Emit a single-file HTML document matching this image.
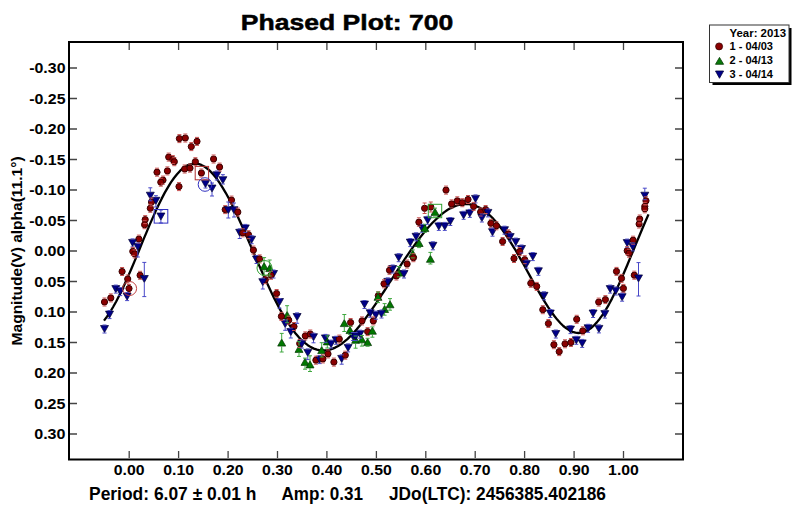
<!DOCTYPE html><html><head><meta charset="utf-8"><style>html,body{margin:0;padding:0;background:#fff;width:800px;height:509px;overflow:hidden}svg{display:block}text{font-family:"Liberation Sans",sans-serif;font-weight:bold}</style></head><body>
<svg width="800" height="509" viewBox="0 0 800 509">
<rect width="800" height="509" fill="#fff"/>
<text x="240.8" y="30" font-size="22.6" stroke="#000" stroke-width="0.5" textLength="212.5" lengthAdjust="spacingAndGlyphs">Phased Plot: 700</text>
<path d="M129.2,43V50 M129.2,458V451 M178.6,43V50 M178.6,458V451 M228.1,43V50 M228.1,458V451 M277.5,43V50 M277.5,458V451 M326.9,43V50 M326.9,458V451 M376.4,43V50 M376.4,458V451 M425.8,43V50 M425.8,458V451 M475.2,43V50 M475.2,458V451 M524.6,43V50 M524.6,458V451 M574.1,43V50 M574.1,458V451 M623.5,43V50 M623.5,458V451 M70,68.0H77 M682,68.0H675 M70,98.5H77 M682,98.5H675 M70,129.0H77 M682,129.0H675 M70,159.5H77 M682,159.5H675 M70,190.0H77 M682,190.0H675 M70,220.5H77 M682,220.5H675 M70,251.0H77 M682,251.0H675 M70,281.5H77 M682,281.5H675 M70,312.0H77 M682,312.0H675 M70,342.5H77 M682,342.5H675 M70,373.0H77 M682,373.0H675 M70,403.5H77 M682,403.5H675 M70,434.0H77 M682,434.0H675" stroke="#444" stroke-width="1.3" fill="none"/>
<text x="65.5" y="73.0" font-size="14.6" text-anchor="end" textLength="36.3" lengthAdjust="spacingAndGlyphs">-0.30</text>
<text x="65.5" y="103.5" font-size="14.6" text-anchor="end" textLength="36.3" lengthAdjust="spacingAndGlyphs">-0.25</text>
<text x="65.5" y="134.0" font-size="14.6" text-anchor="end" textLength="36.3" lengthAdjust="spacingAndGlyphs">-0.20</text>
<text x="65.5" y="164.5" font-size="14.6" text-anchor="end" textLength="36.3" lengthAdjust="spacingAndGlyphs">-0.15</text>
<text x="65.5" y="195.0" font-size="14.6" text-anchor="end" textLength="36.3" lengthAdjust="spacingAndGlyphs">-0.10</text>
<text x="65.5" y="225.5" font-size="14.6" text-anchor="end" textLength="36.3" lengthAdjust="spacingAndGlyphs">-0.05</text>
<text x="65.5" y="256.0" font-size="14.6" text-anchor="end" textLength="31.3" lengthAdjust="spacingAndGlyphs">0.00</text>
<text x="65.5" y="286.5" font-size="14.6" text-anchor="end" textLength="31.3" lengthAdjust="spacingAndGlyphs">0.05</text>
<text x="65.5" y="317.0" font-size="14.6" text-anchor="end" textLength="31.3" lengthAdjust="spacingAndGlyphs">0.10</text>
<text x="65.5" y="347.5" font-size="14.6" text-anchor="end" textLength="31.3" lengthAdjust="spacingAndGlyphs">0.15</text>
<text x="65.5" y="378.0" font-size="14.6" text-anchor="end" textLength="31.3" lengthAdjust="spacingAndGlyphs">0.20</text>
<text x="65.5" y="408.5" font-size="14.6" text-anchor="end" textLength="31.3" lengthAdjust="spacingAndGlyphs">0.25</text>
<text x="65.5" y="439.0" font-size="14.6" text-anchor="end" textLength="31.3" lengthAdjust="spacingAndGlyphs">0.30</text>
<text x="129.2" y="475.3" font-size="14.3" text-anchor="middle" textLength="30.8" lengthAdjust="spacingAndGlyphs">0.00</text>
<text x="178.6" y="475.3" font-size="14.3" text-anchor="middle" textLength="30.8" lengthAdjust="spacingAndGlyphs">0.10</text>
<text x="228.1" y="475.3" font-size="14.3" text-anchor="middle" textLength="30.8" lengthAdjust="spacingAndGlyphs">0.20</text>
<text x="277.5" y="475.3" font-size="14.3" text-anchor="middle" textLength="30.8" lengthAdjust="spacingAndGlyphs">0.30</text>
<text x="326.9" y="475.3" font-size="14.3" text-anchor="middle" textLength="30.8" lengthAdjust="spacingAndGlyphs">0.40</text>
<text x="376.4" y="475.3" font-size="14.3" text-anchor="middle" textLength="30.8" lengthAdjust="spacingAndGlyphs">0.50</text>
<text x="425.8" y="475.3" font-size="14.3" text-anchor="middle" textLength="30.8" lengthAdjust="spacingAndGlyphs">0.60</text>
<text x="475.2" y="475.3" font-size="14.3" text-anchor="middle" textLength="30.8" lengthAdjust="spacingAndGlyphs">0.70</text>
<text x="524.6" y="475.3" font-size="14.3" text-anchor="middle" textLength="30.8" lengthAdjust="spacingAndGlyphs">0.80</text>
<text x="574.1" y="475.3" font-size="14.3" text-anchor="middle" textLength="30.8" lengthAdjust="spacingAndGlyphs">0.90</text>
<text x="623.5" y="475.3" font-size="14.3" text-anchor="middle" textLength="30.8" lengthAdjust="spacingAndGlyphs">1.00</text>
<text transform="translate(21.8,345.4) rotate(-90)" x="0" y="0" font-size="15" textLength="189" lengthAdjust="spacingAndGlyphs">Magnitude(V) alpha(11.1°)</text>
<text x="89" y="499.7" font-size="17.5" textLength="167.5" lengthAdjust="spacingAndGlyphs">Period: 6.07 ± 0.01 h</text>
<text x="281.5" y="499.7" font-size="17.5" textLength="81.5" lengthAdjust="spacingAndGlyphs">Amp: 0.31</text>
<text x="389" y="499.7" font-size="17.5" textLength="217" lengthAdjust="spacingAndGlyphs">JDo(LTC): 2456385.402186</text>
<path d="M104.0,320.6 L107.0,316.6 L110.1,312.0 L113.1,307.0 L116.2,301.5 L119.2,295.6 L122.3,289.3 L125.3,282.7 L128.3,275.9 L131.4,268.8 L134.4,261.6 L137.5,254.2 L140.5,246.8 L143.5,239.4 L146.6,232.1 L149.6,224.9 L152.7,217.9 L155.7,211.1 L158.8,204.6 L161.8,198.4 L164.8,192.6 L167.9,187.3 L170.9,182.4 L174.0,178.0 L177.0,174.2 L180.0,170.9 L183.1,168.2 L186.1,166.1 L189.2,164.6 L192.2,163.8 L195.3,163.5 L198.3,163.9 L201.3,164.9 L204.4,166.5 L207.4,168.7 L210.5,171.4 L213.5,174.7 L216.6,178.5 L219.6,182.8 L222.6,187.6 L225.7,192.8 L228.7,198.3 L231.8,204.2 L234.8,210.4 L237.8,216.8 L240.9,223.5 L243.9,230.3 L247.0,237.3 L250.0,244.3 L253.1,251.3 L256.1,258.4 L259.1,265.4 L262.2,272.3 L265.2,279.1 L268.3,285.8 L271.3,292.2 L274.3,298.5 L277.4,304.4 L280.4,310.1 L283.5,315.5 L286.5,320.5 L289.6,325.2 L292.6,329.6 L295.6,333.5 L298.7,337.1 L301.7,340.2 L304.8,342.9 L307.8,345.2 L310.8,347.1 L313.9,348.6 L316.9,349.7 L320.0,350.3 L323.0,350.5 L326.1,350.4 L329.1,349.8 L332.1,348.9 L335.2,347.6 L338.2,345.9 L341.3,344.0 L344.3,341.7 L347.4,339.1 L350.4,336.2 L353.4,333.0 L356.5,329.6 L359.5,326.0 L362.6,322.2 L365.6,318.2 L368.6,314.1 L371.7,309.7 L374.7,305.3 L377.8,300.8 L380.8,296.2 L383.9,291.5 L386.9,286.8 L389.9,282.0 L393.0,277.3 L396.0,272.6 L399.1,267.8 L402.1,263.2 L405.1,258.6 L408.2,254.1 L411.2,249.6 L414.3,245.3 L417.3,241.2 L420.4,237.1 L423.4,233.3 L426.4,229.6 L429.5,226.1 L432.5,222.8 L435.6,219.7 L438.6,216.8 L441.7,214.2 L444.7,211.9 L447.7,209.8 L450.8,208.1 L453.8,206.6 L456.9,205.5 L459.9,204.6 L462.9,204.1 L466.0,204.0 L469.0,204.2 L472.1,204.8 L475.1,205.7 L478.2,207.0 L481.2,208.6 L484.2,210.6 L487.3,213.0 L490.3,215.8 L493.4,218.9 L496.4,222.3 L499.4,226.0 L502.5,230.1 L505.5,234.4 L508.6,239.0 L511.6,243.8 L514.7,248.8 L517.7,254.0 L520.7,259.4 L523.8,264.8 L526.8,270.3 L529.9,275.9 L532.9,281.4 L535.9,286.9 L539.0,292.2 L542.0,297.4 L545.1,302.4 L548.1,307.2 L551.2,311.7 L554.2,315.8 L557.2,319.6 L560.3,323.0 L563.3,326.0 L566.4,328.4 L569.4,330.4 L572.5,331.8 L575.5,332.7 L578.5,333.0 L581.6,332.7 L584.6,331.8 L587.7,330.4 L590.7,328.3 L593.7,325.7 L596.8,322.4 L599.8,318.7 L602.9,314.4 L605.9,309.6 L609.0,304.3 L612.0,298.6 L615.0,292.5 L618.1,286.1 L621.1,279.3 L624.2,272.3 L627.2,265.2 L630.2,257.9 L633.3,250.5 L636.3,243.1 L639.4,235.7 L642.4,228.5 L645.5,221.3 L648.5,214.4" stroke="#000" stroke-width="2.3" fill="none" stroke-linejoin="round"/>
<g stroke-width="0.7"><circle cx="179.4" cy="138.6" r="3.1" fill="#8a0000" stroke="#3a0000" stroke-width="1"/><circle cx="185.3" cy="138.0" r="3.1" fill="#8a0000" stroke="#3a0000" stroke-width="1"/><circle cx="197.0" cy="141.4" r="3.1" fill="#8a0000" stroke="#3a0000" stroke-width="1"/><circle cx="191.3" cy="146.6" r="3.1" fill="#8a0000" stroke="#3a0000" stroke-width="1"/><circle cx="168.7" cy="157.1" r="3.1" fill="#8a0000" stroke="#3a0000" stroke-width="1"/><circle cx="172.8" cy="159.6" r="3.1" fill="#8a0000" stroke="#3a0000" stroke-width="1"/><circle cx="174.3" cy="161.7" r="3.1" fill="#8a0000" stroke="#3a0000" stroke-width="1"/><circle cx="195.4" cy="161.7" r="3.1" fill="#8a0000" stroke="#3a0000" stroke-width="1"/><circle cx="213.6" cy="159.0" r="3.1" fill="#8a0000" stroke="#3a0000" stroke-width="1"/><circle cx="219.6" cy="167.1" r="3.1" fill="#8a0000" stroke="#3a0000" stroke-width="1"/><circle cx="184.7" cy="169.0" r="3.1" fill="#8a0000" stroke="#3a0000" stroke-width="1"/><circle cx="190.0" cy="168.1" r="3.1" fill="#8a0000" stroke="#3a0000" stroke-width="1"/><circle cx="201.4" cy="173.0" r="3.1" fill="#8a0000" stroke="#3a0000" stroke-width="1"/><circle cx="157.0" cy="172.2" r="3.1" fill="#8a0000" stroke="#3a0000" stroke-width="1"/><circle cx="167.4" cy="170.9" r="3.1" fill="#8a0000" stroke="#3a0000" stroke-width="1"/><circle cx="163.0" cy="180.1" r="3.1" fill="#8a0000" stroke="#3a0000" stroke-width="1"/><circle cx="160.8" cy="182.2" r="3.1" fill="#8a0000" stroke="#3a0000" stroke-width="1"/><circle cx="179.0" cy="186.6" r="3.1" fill="#8a0000" stroke="#3a0000" stroke-width="1"/><path d="M212.8,171.8H220.8L216.8,178.9Z" fill="#000088" stroke="#000030"/><path d="M218.9,176.7H226.9L222.9,183.8Z" fill="#000088" stroke="#000030"/><path d="M201.5,180.5H209.5L205.5,187.6Z" fill="#000088" stroke="#000030"/><path d="M208.0,185.0H216.0L212.0,192.1Z" fill="#000088" stroke="#000030"/><path d="M146.3,192.2H154.3L150.3,199.3Z" fill="#000088" stroke="#000030"/><circle cx="151.5" cy="202.0" r="3.1" fill="#8a0000" stroke="#3a0000" stroke-width="1"/><path d="M151.9,197.3H159.9L155.9,204.4Z" fill="#000088" stroke="#000030"/><circle cx="150.3" cy="208.3" r="3.1" fill="#8a0000" stroke="#3a0000" stroke-width="1"/><path d="M156.9,213.0H164.9L160.9,220.1Z" fill="#000088" stroke="#000030"/><circle cx="145.2" cy="219.6" r="3.1" fill="#8a0000" stroke="#3a0000" stroke-width="1"/><circle cx="144.6" cy="224.7" r="3.1" fill="#8a0000" stroke="#3a0000" stroke-width="1"/><circle cx="138.9" cy="239.1" r="3.1" fill="#8a0000" stroke="#3a0000" stroke-width="1"/><path d="M128.6,239.4H136.6L132.6,246.5Z" fill="#000088" stroke="#000030"/><path d="M133.8,243.5H141.8L137.8,250.6Z" fill="#000088" stroke="#000030"/><circle cx="132.8" cy="251.4" r="3.1" fill="#8a0000" stroke="#3a0000" stroke-width="1"/><circle cx="134.7" cy="253.9" r="3.1" fill="#8a0000" stroke="#3a0000" stroke-width="1"/><circle cx="122.1" cy="271.5" r="3.1" fill="#8a0000" stroke="#3a0000" stroke-width="1"/><circle cx="127.7" cy="279.0" r="3.1" fill="#8a0000" stroke="#3a0000" stroke-width="1"/><circle cx="140.1" cy="275.3" r="3.1" fill="#8a0000" stroke="#3a0000" stroke-width="1"/><path d="M140.3,275.5H148.3L144.3,282.6Z" fill="#000088" stroke="#000030"/><circle cx="129.0" cy="288.5" r="3.1" fill="#8a0000" stroke="#3a0000" stroke-width="1"/><path d="M111.8,285.6H119.8L115.8,292.7Z" fill="#000088" stroke="#000030"/><path d="M116.2,288.1H124.2L120.2,295.2Z" fill="#000088" stroke="#000030"/><path d="M123.1,293.1H131.1L127.1,300.2Z" fill="#000088" stroke="#000030"/><circle cx="110.8" cy="297.9" r="3.1" fill="#8a0000" stroke="#3a0000" stroke-width="1"/><circle cx="104.5" cy="302.0" r="3.1" fill="#8a0000" stroke="#3a0000" stroke-width="1"/><path d="M105.5,311.1H113.5L109.5,318.2Z" fill="#000088" stroke="#000030"/><path d="M100.5,325.5H108.5L104.5,332.6Z" fill="#000088" stroke="#000030"/><circle cx="231.5" cy="200.1" r="3.1" fill="#8a0000" stroke="#3a0000" stroke-width="1"/><circle cx="225.2" cy="209.6" r="3.1" fill="#8a0000" stroke="#3a0000" stroke-width="1"/><path d="M224.3,206.7H232.3L228.3,213.8Z" fill="#000088" stroke="#000030"/><path d="M230.0,206.7H238.0L234.0,213.8Z" fill="#000088" stroke="#000030"/><circle cx="237.8" cy="212.1" r="3.1" fill="#8a0000" stroke="#3a0000" stroke-width="1"/><path d="M241.3,224.9H249.3L245.3,232.0Z" fill="#000088" stroke="#000030"/><path d="M235.7,229.3H243.7L239.7,236.4Z" fill="#000088" stroke="#000030"/><circle cx="242.8" cy="232.8" r="3.1" fill="#8a0000" stroke="#3a0000" stroke-width="1"/><circle cx="248.5" cy="234.7" r="3.1" fill="#8a0000" stroke="#3a0000" stroke-width="1"/><path d="M247.6,236.2H255.6L251.6,243.3Z" fill="#000088" stroke="#000030"/><circle cx="253.4" cy="250.1" r="3.1" fill="#8a0000" stroke="#3a0000" stroke-width="1"/><path d="M252.5,256.0H260.5L256.5,263.1Z" fill="#000088" stroke="#000030"/><circle cx="259.7" cy="258.9" r="3.1" fill="#8a0000" stroke="#3a0000" stroke-width="1"/><path d="M264.1,262.6L268.1,269.7H260.1Z" fill="#007800" stroke="#003000"/><path d="M269.7,264.5L273.7,271.6H265.7Z" fill="#007800" stroke="#003000"/><path d="M269.5,270.5H277.5L273.5,277.6Z" fill="#000088" stroke="#000030"/><circle cx="271.0" cy="275.3" r="3.1" fill="#8a0000" stroke="#3a0000" stroke-width="1"/><circle cx="265.3" cy="279.7" r="3.1" fill="#8a0000" stroke="#3a0000" stroke-width="1"/><path d="M258.8,278.7H266.8L262.8,285.8Z" fill="#000088" stroke="#000030"/><circle cx="276.6" cy="293.5" r="3.1" fill="#8a0000" stroke="#3a0000" stroke-width="1"/><path d="M275.5,298.5H283.5L279.5,305.6Z" fill="#000088" stroke="#000030"/><path d="M287.1,311.4L291.1,318.5H283.1Z" fill="#007800" stroke="#003000"/><circle cx="281.4" cy="316.4" r="3.1" fill="#8a0000" stroke="#3a0000" stroke-width="1"/><circle cx="288.7" cy="320.2" r="3.1" fill="#8a0000" stroke="#3a0000" stroke-width="1"/><path d="M281.2,320.5H289.2L285.2,327.6Z" fill="#000088" stroke="#000030"/><path d="M293.1,313.5H301.1L297.1,320.6Z" fill="#000088" stroke="#000030"/><circle cx="294.0" cy="326.5" r="3.1" fill="#8a0000" stroke="#3a0000" stroke-width="1"/><path d="M286.8,328.6H294.8L290.8,335.7Z" fill="#000088" stroke="#000030"/><path d="M281.7,339.0L285.7,346.1H277.7Z" fill="#007800" stroke="#003000"/><circle cx="305.3" cy="335.9" r="3.1" fill="#8a0000" stroke="#3a0000" stroke-width="1"/><circle cx="310.3" cy="334.0" r="3.1" fill="#8a0000" stroke="#3a0000" stroke-width="1"/><path d="M309.5,333.7H317.5L313.5,340.8Z" fill="#000088" stroke="#000030"/><circle cx="299.7" cy="343.5" r="3.1" fill="#8a0000" stroke="#3a0000" stroke-width="1"/><path d="M297.8,340.6H305.8L301.8,347.7Z" fill="#000088" stroke="#000030"/><path d="M299.0,345.3L303.0,352.4H295.0Z" fill="#007800" stroke="#003000"/><path d="M303.8,349.4H311.8L307.8,356.5Z" fill="#000088" stroke="#000030"/><path d="M321.4,334.9H329.4L325.4,342.0Z" fill="#000088" stroke="#000030"/><path d="M327.3,337.8L331.3,344.9H323.3Z" fill="#007800" stroke="#003000"/><path d="M327.1,340.6H335.1L331.1,347.7Z" fill="#000088" stroke="#000030"/><path d="M332.1,336.8H340.1L336.1,343.9Z" fill="#000088" stroke="#000030"/><circle cx="339.3" cy="339.1" r="3.1" fill="#8a0000" stroke="#3a0000" stroke-width="1"/><path d="M321.7,346.5L325.7,353.6H317.7Z" fill="#007800" stroke="#003000"/><path d="M344.3,319.5L348.3,326.6H340.3Z" fill="#007800" stroke="#003000"/><circle cx="350.6" cy="322.5" r="3.1" fill="#8a0000" stroke="#3a0000" stroke-width="1"/><path d="M350.0,326.5L354.0,333.6H346.0Z" fill="#007800" stroke="#003000"/><path d="M349.1,333.0H357.1L353.1,340.1Z" fill="#000088" stroke="#000030"/><path d="M344.1,344.4H352.1L348.1,351.5Z" fill="#000088" stroke="#000030"/><circle cx="328.0" cy="353.9" r="3.1" fill="#8a0000" stroke="#3a0000" stroke-width="1"/><path d="M305.0,358.3L309.0,365.4H301.0Z" fill="#007800" stroke="#003000"/><path d="M310.0,360.8L314.0,367.9H306.0Z" fill="#007800" stroke="#003000"/><circle cx="315.9" cy="360.2" r="3.1" fill="#8a0000" stroke="#3a0000" stroke-width="1"/><path d="M315.7,356.1H323.7L319.7,363.2Z" fill="#000088" stroke="#000030"/><circle cx="322.9" cy="358.9" r="3.1" fill="#8a0000" stroke="#3a0000" stroke-width="1"/><circle cx="333.9" cy="362.1" r="3.1" fill="#8a0000" stroke="#3a0000" stroke-width="1"/><path d="M337.7,355.4H345.7L341.7,362.5Z" fill="#000088" stroke="#000030"/><circle cx="345.3" cy="355.2" r="3.1" fill="#8a0000" stroke="#3a0000" stroke-width="1"/><path d="M355.6,336.2L359.6,343.3H351.6Z" fill="#007800" stroke="#003000"/><path d="M361.9,335.7L365.9,342.8H357.9Z" fill="#007800" stroke="#003000"/><path d="M356.1,330.7H364.1L360.1,337.8Z" fill="#000088" stroke="#000030"/><circle cx="384.0" cy="283.8" r="3.1" fill="#8a0000" stroke="#3a0000" stroke-width="1"/><path d="M383.8,278.4H391.8L387.8,285.5Z" fill="#000088" stroke="#000030"/><circle cx="378.3" cy="295.7" r="3.1" fill="#8a0000" stroke="#3a0000" stroke-width="1"/><path d="M378.0,293.2L382.0,300.3H374.0Z" fill="#007800" stroke="#003000"/><path d="M390.0,300.7L394.0,307.8H386.0Z" fill="#007800" stroke="#003000"/><path d="M360.5,301.0H368.5L364.5,308.1Z" fill="#000088" stroke="#000030"/><path d="M384.6,305.4L388.6,312.5H380.6Z" fill="#007800" stroke="#003000"/><path d="M366.2,309.8H374.2L370.2,316.9Z" fill="#000088" stroke="#000030"/><path d="M371.8,311.7H379.8L375.8,318.8Z" fill="#000088" stroke="#000030"/><path d="M377.5,310.5H385.5L381.5,317.6Z" fill="#000088" stroke="#000030"/><circle cx="362.0" cy="320.9" r="3.1" fill="#8a0000" stroke="#3a0000" stroke-width="1"/><circle cx="373.3" cy="320.9" r="3.1" fill="#8a0000" stroke="#3a0000" stroke-width="1"/><circle cx="367.6" cy="331.6" r="3.1" fill="#8a0000" stroke="#3a0000" stroke-width="1"/><path d="M372.4,327.1L376.4,334.2H368.4Z" fill="#007800" stroke="#003000"/><path d="M351.7,333.1H359.7L355.7,340.2Z" fill="#000088" stroke="#000030"/><path d="M367.6,338.5L371.6,345.6H363.6Z" fill="#007800" stroke="#003000"/><circle cx="389.5" cy="270.3" r="3.1" fill="#8a0000" stroke="#3a0000" stroke-width="1"/><path d="M388.7,265.5H396.7L392.7,272.6Z" fill="#000088" stroke="#000030"/><path d="M399.0,269.0L403.0,276.1H395.0Z" fill="#007800" stroke="#003000"/><circle cx="396.4" cy="276.0" r="3.1" fill="#8a0000" stroke="#3a0000" stroke-width="1"/><path d="M400.0,270.5H408.0L404.0,277.6Z" fill="#000088" stroke="#000030"/><path d="M394.7,254.2H402.7L398.7,261.3Z" fill="#000088" stroke="#000030"/><circle cx="407.1" cy="264.0" r="3.1" fill="#8a0000" stroke="#3a0000" stroke-width="1"/><path d="M412.8,250.1L416.8,257.2H408.8Z" fill="#007800" stroke="#003000"/><circle cx="413.4" cy="257.7" r="3.1" fill="#8a0000" stroke="#3a0000" stroke-width="1"/><path d="M406.3,239.1H414.3L410.3,246.2Z" fill="#000088" stroke="#000030"/><path d="M412.1,233.3H420.1L416.1,240.4Z" fill="#000088" stroke="#000030"/><path d="M419.1,239.4L423.1,246.5H415.1Z" fill="#007800" stroke="#003000"/><path d="M428.9,242.3H436.9L432.9,249.4Z" fill="#000088" stroke="#000030"/><path d="M430.4,255.2L434.4,262.3H426.4Z" fill="#007800" stroke="#003000"/><path d="M418.1,224.8H426.1L422.1,231.9Z" fill="#000088" stroke="#000030"/><path d="M424.9,224.5L428.9,231.6H420.9Z" fill="#007800" stroke="#003000"/><path d="M434.8,222.9H442.8L438.8,230.0Z" fill="#000088" stroke="#000030"/><path d="M440.8,222.9H448.8L444.8,230.0Z" fill="#000088" stroke="#000030"/><circle cx="446.0" cy="190.1" r="3.1" fill="#8a0000" stroke="#3a0000" stroke-width="1"/><circle cx="451.6" cy="203.9" r="3.1" fill="#8a0000" stroke="#3a0000" stroke-width="1"/><circle cx="457.3" cy="200.8" r="3.1" fill="#8a0000" stroke="#3a0000" stroke-width="1"/><circle cx="462.3" cy="202.7" r="3.1" fill="#8a0000" stroke="#3a0000" stroke-width="1"/><circle cx="468.0" cy="199.5" r="3.1" fill="#8a0000" stroke="#3a0000" stroke-width="1"/><path d="M471.5,195.4H479.5L475.5,202.5Z" fill="#000088" stroke="#000030"/><circle cx="473.6" cy="206.4" r="3.1" fill="#8a0000" stroke="#3a0000" stroke-width="1"/><circle cx="480.6" cy="212.0" r="3.1" fill="#8a0000" stroke="#3a0000" stroke-width="1"/><circle cx="485.6" cy="209.5" r="3.1" fill="#8a0000" stroke="#3a0000" stroke-width="1"/><path d="M483.9,209.4H491.9L487.9,216.5Z" fill="#000088" stroke="#000030"/><path d="M477.9,214.5H485.9L481.9,221.6Z" fill="#000088" stroke="#000030"/><circle cx="490.9" cy="223.3" r="3.1" fill="#8a0000" stroke="#3a0000" stroke-width="1"/><path d="M488.5,228.7H496.5L492.5,235.8Z" fill="#000088" stroke="#000030"/><path d="M459.6,211.8H467.6L463.6,218.9Z" fill="#000088" stroke="#000030"/><path d="M465.8,209.9H473.8L469.8,217.0Z" fill="#000088" stroke="#000030"/><path d="M446.3,218.0H454.3L450.3,225.1Z" fill="#000088" stroke="#000030"/><circle cx="424.6" cy="208.3" r="3.1" fill="#8a0000" stroke="#3a0000" stroke-width="1"/><circle cx="430.8" cy="207.1" r="3.1" fill="#8a0000" stroke="#3a0000" stroke-width="1"/><path d="M435.0,208.3L439.0,215.4H431.0Z" fill="#007800" stroke="#003000"/><path d="M423.7,216.8H431.7L427.7,223.9Z" fill="#000088" stroke="#000030"/><circle cx="418.9" cy="222.2" r="3.1" fill="#8a0000" stroke="#3a0000" stroke-width="1"/><circle cx="496.4" cy="225.8" r="3.1" fill="#8a0000" stroke="#3a0000" stroke-width="1"/><path d="M500.5,226.7H508.5L504.5,233.8Z" fill="#000088" stroke="#000030"/><circle cx="508.3" cy="233.9" r="3.1" fill="#8a0000" stroke="#3a0000" stroke-width="1"/><path d="M506.2,233.6H514.2L510.2,240.7Z" fill="#000088" stroke="#000030"/><circle cx="502.6" cy="241.5" r="3.1" fill="#8a0000" stroke="#3a0000" stroke-width="1"/><path d="M511.8,238.6H519.8L515.8,245.7Z" fill="#000088" stroke="#000030"/><path d="M517.5,245.5H525.5L521.5,252.6Z" fill="#000088" stroke="#000030"/><circle cx="519.6" cy="251.5" r="3.1" fill="#8a0000" stroke="#3a0000" stroke-width="1"/><path d="M528.8,253.1H536.8L532.8,260.2Z" fill="#000088" stroke="#000030"/><circle cx="514.0" cy="258.5" r="3.1" fill="#8a0000" stroke="#3a0000" stroke-width="1"/><circle cx="524.7" cy="259.7" r="3.1" fill="#8a0000" stroke="#3a0000" stroke-width="1"/><path d="M522.5,260.6H530.5L526.5,267.7Z" fill="#000088" stroke="#000030"/><path d="M534.4,267.8H542.4L538.4,274.9Z" fill="#000088" stroke="#000030"/><circle cx="530.8" cy="283.3" r="3.1" fill="#8a0000" stroke="#3a0000" stroke-width="1"/><circle cx="536.7" cy="286.4" r="3.1" fill="#8a0000" stroke="#3a0000" stroke-width="1"/><path d="M540.0,292.3H548.0L544.0,299.4Z" fill="#000088" stroke="#000030"/><circle cx="542.8" cy="309.7" r="3.1" fill="#8a0000" stroke="#3a0000" stroke-width="1"/><path d="M546.3,310.0H554.3L550.3,317.1Z" fill="#000088" stroke="#000030"/><circle cx="548.4" cy="323.5" r="3.1" fill="#8a0000" stroke="#3a0000" stroke-width="1"/><circle cx="576.7" cy="319.3" r="3.1" fill="#8a0000" stroke="#3a0000" stroke-width="1"/><path d="M589.1,310.0H597.1L593.1,317.1Z" fill="#000088" stroke="#000030"/><circle cx="598.7" cy="302.1" r="3.1" fill="#8a0000" stroke="#3a0000" stroke-width="1"/><path d="M551.8,330.5H559.8L555.8,337.6Z" fill="#000088" stroke="#000030"/><circle cx="553.9" cy="344.7" r="3.1" fill="#8a0000" stroke="#3a0000" stroke-width="1"/><circle cx="559.2" cy="351.6" r="3.1" fill="#8a0000" stroke="#3a0000" stroke-width="1"/><circle cx="565.0" cy="343.8" r="3.1" fill="#8a0000" stroke="#3a0000" stroke-width="1"/><circle cx="570.9" cy="342.5" r="3.1" fill="#8a0000" stroke="#3a0000" stroke-width="1"/><path d="M572.3,336.8H580.3L576.3,343.9Z" fill="#000088" stroke="#000030"/><path d="M578.2,339.9H586.2L582.2,347.0Z" fill="#000088" stroke="#000030"/><path d="M566.5,326.1H574.5L570.5,333.2Z" fill="#000088" stroke="#000030"/><circle cx="582.8" cy="330.8" r="3.1" fill="#8a0000" stroke="#3a0000" stroke-width="1"/><path d="M584.1,324.8H592.1L588.1,331.9Z" fill="#000088" stroke="#000030"/><path d="M594.9,325.4H602.9L598.9,332.5Z" fill="#000088" stroke="#000030"/><path d="M600.8,310.6H608.8L604.8,317.7Z" fill="#000088" stroke="#000030"/><circle cx="605.4" cy="299.6" r="3.1" fill="#8a0000" stroke="#3a0000" stroke-width="1"/><path d="M623.2,239.6H631.2L627.2,246.7Z" fill="#000088" stroke="#000030"/><circle cx="633.1" cy="240.2" r="3.1" fill="#8a0000" stroke="#3a0000" stroke-width="1"/><path d="M628.8,243.4H636.8L632.8,250.5Z" fill="#000088" stroke="#000030"/><circle cx="627.2" cy="250.7" r="3.1" fill="#8a0000" stroke="#3a0000" stroke-width="1"/><circle cx="629.1" cy="253.2" r="3.1" fill="#8a0000" stroke="#3a0000" stroke-width="1"/><circle cx="616.5" cy="271.4" r="3.1" fill="#8a0000" stroke="#3a0000" stroke-width="1"/><circle cx="621.5" cy="278.4" r="3.1" fill="#8a0000" stroke="#3a0000" stroke-width="1"/><circle cx="634.3" cy="275.2" r="3.1" fill="#8a0000" stroke="#3a0000" stroke-width="1"/><path d="M634.5,274.9H642.5L638.5,282.0Z" fill="#000088" stroke="#000030"/><circle cx="623.4" cy="288.4" r="3.1" fill="#8a0000" stroke="#3a0000" stroke-width="1"/><path d="M606.2,285.6H614.2L610.2,292.7Z" fill="#000088" stroke="#000030"/><path d="M611.8,287.5H619.8L615.8,294.6Z" fill="#000088" stroke="#000030"/><path d="M618.1,293.7H626.1L622.1,300.8Z" fill="#000088" stroke="#000030"/><path d="M640.8,192.2H648.8L644.8,199.3Z" fill="#000088" stroke="#000030"/><circle cx="646.0" cy="200.8" r="3.1" fill="#8a0000" stroke="#3a0000" stroke-width="1"/><circle cx="644.8" cy="206.4" r="3.1" fill="#8a0000" stroke="#3a0000" stroke-width="1"/><circle cx="644.8" cy="208.8" r="3.1" fill="#8a0000" stroke="#3a0000" stroke-width="1"/><circle cx="639.7" cy="219.0" r="3.1" fill="#8a0000" stroke="#3a0000" stroke-width="1"/><circle cx="639.1" cy="224.0" r="3.1" fill="#8a0000" stroke="#3a0000" stroke-width="1"/></g>
<g stroke-width="1" fill="none"><path d="M177.4,134.6H181.4M177.4,142.6H181.4" stroke="#c85050"/><path d="M183.3,134.0H187.3M183.3,142.0H187.3" stroke="#c85050"/><path d="M195.0,137.4H199.0M195.0,145.4H199.0" stroke="#c85050"/><path d="M189.3,142.6H193.3M189.3,150.6H193.3" stroke="#c85050"/><path d="M166.7,153.1H170.7M166.7,161.1H170.7" stroke="#c85050"/><path d="M170.8,155.6H174.8M170.8,163.6H174.8" stroke="#c85050"/><path d="M172.3,157.7H176.3M172.3,165.7H176.3" stroke="#c85050"/><path d="M193.4,157.7H197.4M193.4,165.7H197.4" stroke="#c85050"/><path d="M211.6,155.0H215.6M211.6,163.0H215.6" stroke="#c85050"/><path d="M217.6,163.1H221.6M217.6,171.1H221.6" stroke="#c85050"/><path d="M182.7,165.0H186.7M182.7,173.0H186.7" stroke="#c85050"/><path d="M188.0,164.1H192.0M188.0,172.1H192.0" stroke="#c85050"/><path d="M199.4,169.0H203.4M199.4,177.0H203.4" stroke="#c85050"/><path d="M155.0,168.2H159.0M155.0,176.2H159.0" stroke="#c85050"/><path d="M165.4,166.9H169.4M165.4,174.9H169.4" stroke="#c85050"/><path d="M161.0,176.1H165.0M161.0,184.1H165.0" stroke="#c85050"/><path d="M158.8,178.2H162.8M158.8,186.2H162.8" stroke="#c85050"/><path d="M177.0,182.6H181.0M177.0,190.6H181.0" stroke="#c85050"/><path d="M214.8,171.0H218.8M214.8,180.0H218.8M216.8,171.0V171.8M216.8,178.8V180.0" stroke="#4848c8"/><path d="M220.9,174.7H224.9M220.9,184.0H224.9M222.9,174.7V176.7" stroke="#4848c8"/><path d="M203.5,180.0H207.5M203.5,188.0H207.5" stroke="#4848c8"/><path d="M210.0,183.0H214.0M210.0,196.0H214.0M212.0,183.0V185.0M212.0,192.0V196.0" stroke="#4848c8"/><path d="M148.3,187.8H152.3M148.3,200.8H152.3M150.3,187.8V192.2M150.3,199.2V200.8" stroke="#4848c8"/><path d="M149.5,198.0H153.5M149.5,206.0H153.5" stroke="#c85050"/><path d="M153.9,195.7H157.9M153.9,207.0H157.9M155.9,195.7V197.3M155.9,204.3V207.0" stroke="#4848c8"/><path d="M148.3,204.3H152.3M148.3,212.3H152.3" stroke="#c85050"/><path d="M158.9,210.0H162.9M158.9,223.0H162.9M160.9,210.0V213.0M160.9,220.0V223.0" stroke="#4848c8"/><path d="M143.2,215.6H147.2M143.2,223.6H147.2" stroke="#c85050"/><path d="M142.6,220.7H146.6M142.6,228.7H146.6" stroke="#c85050"/><path d="M136.9,235.1H140.9M136.9,243.1H140.9" stroke="#c85050"/><path d="M130.6,238.9H134.6M130.6,246.9H134.6" stroke="#4848c8"/><path d="M135.8,243.0H139.8M135.8,257.0H139.8M137.8,250.5V257.0" stroke="#4848c8"/><path d="M130.8,247.4H134.8M130.8,255.4H134.8" stroke="#c85050"/><path d="M132.7,249.9H136.7M132.7,257.9H136.7" stroke="#c85050"/><path d="M120.1,267.5H124.1M120.1,275.5H124.1" stroke="#c85050"/><path d="M125.7,275.0H129.7M125.7,283.0H129.7" stroke="#c85050"/><path d="M138.1,271.3H142.1M138.1,279.3H142.1" stroke="#c85050"/><path d="M142.3,262.4H146.3M142.3,296.6H146.3M144.3,262.4V275.5M144.3,282.5V296.6" stroke="#4848c8"/><path d="M127.0,284.5H131.0M127.0,292.5H131.0" stroke="#c85050"/><path d="M113.8,285.1H117.8M113.8,293.1H117.8" stroke="#4848c8"/><path d="M118.2,287.6H122.2M118.2,295.6H122.2" stroke="#4848c8"/><path d="M125.1,292.6H129.1M125.1,300.6H129.1" stroke="#4848c8"/><path d="M108.8,293.9H112.8M108.8,301.9H112.8" stroke="#c85050"/><path d="M102.5,298.0H106.5M102.5,306.0H106.5" stroke="#c85050"/><path d="M107.5,310.6H111.5M107.5,318.6H111.5" stroke="#4848c8"/><path d="M102.5,325.0H106.5M102.5,333.0H106.5" stroke="#4848c8"/><path d="M229.5,196.1H233.5M229.5,204.1H233.5" stroke="#c85050"/><path d="M223.2,205.6H227.2M223.2,213.6H227.2" stroke="#c85050"/><path d="M226.3,202.0H230.3M226.3,218.0H230.3M228.3,202.0V206.7M228.3,213.7V218.0" stroke="#4848c8"/><path d="M232.0,203.0H236.0M232.0,217.0H236.0M234.0,203.0V206.7M234.0,213.7V217.0" stroke="#4848c8"/><path d="M235.8,208.1H239.8M235.8,216.1H239.8" stroke="#c85050"/><path d="M243.3,224.4H247.3M243.3,232.4H247.3" stroke="#4848c8"/><path d="M237.7,228.8H241.7M237.7,238.5H241.7M239.7,236.3V238.5" stroke="#4848c8"/><path d="M240.8,228.8H244.8M240.8,236.8H244.8" stroke="#c85050"/><path d="M246.5,230.7H250.5M246.5,238.7H250.5" stroke="#c85050"/><path d="M249.6,235.7H253.6M249.6,243.7H253.6" stroke="#4848c8"/><path d="M251.4,246.1H255.4M251.4,254.1H255.4" stroke="#c85050"/><path d="M254.5,255.5H258.5M254.5,263.5H258.5" stroke="#4848c8"/><path d="M257.7,254.9H261.7M257.7,262.9H261.7" stroke="#c85050"/><path d="M262.1,257.6H266.1M262.1,275.3H266.1M264.1,257.6V262.9M264.1,269.9V275.3" stroke="#40a840"/><path d="M267.7,260.0H271.7M267.7,276.0H271.7M269.7,260.0V264.8M269.7,271.8V276.0" stroke="#40a840"/><path d="M271.5,270.0H275.5M271.5,278.0H275.5" stroke="#4848c8"/><path d="M269.0,271.3H273.0M269.0,279.3H273.0" stroke="#c85050"/><path d="M263.3,275.7H267.3M263.3,283.7H267.3" stroke="#c85050"/><path d="M260.8,278.2H264.8M260.8,289.0H264.8M262.8,285.7V289.0" stroke="#4848c8"/><path d="M274.6,289.5H278.6M274.6,297.5H278.6" stroke="#c85050"/><path d="M277.5,298.6H281.5M277.5,308.2H281.5M279.5,305.5V308.2" stroke="#4848c8"/><path d="M285.1,305.7H289.1M285.1,322.7H289.1M287.1,305.7V311.7M287.1,318.7V322.7" stroke="#40a840"/><path d="M279.4,312.4H283.4M279.4,320.4H283.4" stroke="#c85050"/><path d="M286.7,316.2H290.7M286.7,324.2H290.7" stroke="#c85050"/><path d="M283.2,320.0H287.2M283.2,330.3H287.2M285.2,327.5V330.3" stroke="#4848c8"/><path d="M295.1,312.9H299.1M295.1,323.3H299.1M297.1,312.9V313.5M297.1,320.5V323.3" stroke="#4848c8"/><path d="M292.0,322.5H296.0M292.0,330.5H296.0" stroke="#c85050"/><path d="M288.8,328.1H292.8M288.8,338.0H292.8M290.8,335.6V338.0" stroke="#4848c8"/><path d="M279.7,333.4H283.7M279.7,352.0H283.7M281.7,333.4V339.3M281.7,346.3V352.0" stroke="#40a840"/><path d="M303.3,331.9H307.3M303.3,339.9H307.3" stroke="#c85050"/><path d="M308.3,330.0H312.3M308.3,338.0H312.3" stroke="#c85050"/><path d="M311.5,333.2H315.5M311.5,342.8H315.5M313.5,340.7V342.8" stroke="#4848c8"/><path d="M297.7,339.5H301.7M297.7,347.5H301.7" stroke="#c85050"/><path d="M299.8,340.1H303.8M299.8,348.1H303.8" stroke="#4848c8"/><path d="M297.0,341.6H301.0M297.0,356.4H301.0M299.0,341.6V345.6M299.0,352.6V356.4" stroke="#40a840"/><path d="M305.8,348.9H309.8M305.8,359.6H309.8M307.8,356.4V359.6" stroke="#4848c8"/><path d="M323.4,334.4H327.4M323.4,342.4H327.4" stroke="#4848c8"/><path d="M325.3,335.8H329.3M325.3,348.0H329.3M327.3,335.8V338.1M327.3,345.1V348.0" stroke="#40a840"/><path d="M329.1,340.1H333.1M329.1,348.1H333.1" stroke="#4848c8"/><path d="M334.1,336.3H338.1M334.1,344.3H338.1" stroke="#4848c8"/><path d="M337.3,335.1H341.3M337.3,343.1H341.3" stroke="#c85050"/><path d="M319.7,342.7H323.7M319.7,357.0H323.7M321.7,342.7V346.8M321.7,353.8V357.0" stroke="#40a840"/><path d="M342.3,314.5H346.3M342.3,331.5H346.3M344.3,314.5V319.8M344.3,326.8V331.5" stroke="#40a840"/><path d="M348.6,318.5H352.6M348.6,326.5H352.6" stroke="#c85050"/><path d="M348.0,326.3H352.0M348.0,334.3H352.0" stroke="#40a840"/><path d="M351.1,332.5H355.1M351.1,340.5H355.1" stroke="#4848c8"/><path d="M346.1,343.9H350.1M346.1,351.9H350.1" stroke="#4848c8"/><path d="M326.0,349.9H330.0M326.0,357.9H330.0" stroke="#c85050"/><path d="M303.0,358.1H307.0M303.0,369.2H307.0M305.0,365.6V369.2" stroke="#40a840"/><path d="M308.0,355.8H312.0M308.0,371.5H312.0M310.0,355.8V361.1M310.0,368.1V371.5" stroke="#40a840"/><path d="M313.9,356.2H317.9M313.9,364.2H317.9" stroke="#c85050"/><path d="M317.7,355.6H321.7M317.7,363.6H321.7" stroke="#4848c8"/><path d="M320.9,354.9H324.9M320.9,362.9H324.9" stroke="#c85050"/><path d="M331.9,358.1H335.9M331.9,366.1H335.9" stroke="#c85050"/><path d="M339.7,354.9H343.7M339.7,364.2H343.7M341.7,362.4V364.2" stroke="#4848c8"/><path d="M343.3,351.2H347.3M343.3,359.2H347.3" stroke="#c85050"/><path d="M353.6,336.0H357.6M353.6,348.2H357.6M355.6,343.5V348.2" stroke="#40a840"/><path d="M359.9,335.5H363.9M359.9,346.1H363.9M361.9,343.0V346.1" stroke="#40a840"/><path d="M358.1,330.2H362.1M358.1,338.2H362.1" stroke="#4848c8"/><path d="M382.0,279.8H386.0M382.0,287.8H386.0" stroke="#c85050"/><path d="M385.8,277.9H389.8M385.8,285.9H389.8" stroke="#4848c8"/><path d="M376.3,291.7H380.3M376.3,299.7H380.3" stroke="#c85050"/><path d="M376.0,292.0H380.0M376.0,302.6H380.0M378.0,292.0V293.5M378.0,300.5V302.6" stroke="#40a840"/><path d="M388.0,298.6H392.0M388.0,310.2H392.0M390.0,298.6V301.0M390.0,308.0V310.2" stroke="#40a840"/><path d="M362.5,300.5H366.5M362.5,308.5H366.5" stroke="#4848c8"/><path d="M382.6,303.6H386.6M382.6,315.2H386.6M384.6,303.6V305.7M384.6,312.7V315.2" stroke="#40a840"/><path d="M368.2,309.3H372.2M368.2,317.3H372.2" stroke="#4848c8"/><path d="M373.8,311.2H377.8M373.8,319.2H377.8" stroke="#4848c8"/><path d="M379.5,310.0H383.5M379.5,318.0H383.5" stroke="#4848c8"/><path d="M360.0,316.9H364.0M360.0,324.9H364.0" stroke="#c85050"/><path d="M371.3,316.9H375.3M371.3,324.9H375.3" stroke="#c85050"/><path d="M365.6,327.6H369.6M365.6,335.6H369.6" stroke="#c85050"/><path d="M370.4,326.9H374.4M370.4,337.2H374.4M372.4,334.4V337.2" stroke="#40a840"/><path d="M353.7,332.6H357.7M353.7,340.6H357.7" stroke="#4848c8"/><path d="M365.6,338.3H369.6M365.6,346.3H369.6" stroke="#40a840"/><path d="M387.5,266.3H391.5M387.5,274.3H391.5" stroke="#c85050"/><path d="M390.7,265.0H394.7M390.7,273.0H394.7" stroke="#4848c8"/><path d="M397.0,266.5H401.0M397.0,276.8H401.0M399.0,266.5V269.3" stroke="#40a840"/><path d="M394.4,272.0H398.4M394.4,280.0H398.4" stroke="#c85050"/><path d="M402.0,270.0H406.0M402.0,278.0H406.0" stroke="#4848c8"/><path d="M396.7,253.7H400.7M396.7,261.7H400.7" stroke="#4848c8"/><path d="M405.1,260.0H409.1M405.1,268.0H409.1" stroke="#c85050"/><path d="M410.8,249.9H414.8M410.8,257.9H414.8" stroke="#40a840"/><path d="M411.4,253.7H415.4M411.4,261.7H415.4" stroke="#c85050"/><path d="M408.3,238.6H412.3M408.3,246.6H412.3" stroke="#4848c8"/><path d="M414.1,232.8H418.1M414.1,240.8H418.1" stroke="#4848c8"/><path d="M417.1,239.2H421.1M417.1,247.6H421.1M419.1,246.7V247.6" stroke="#40a840"/><path d="M430.9,241.8H434.9M430.9,249.8H434.9" stroke="#4848c8"/><path d="M428.4,252.4H432.4M428.4,264.0H432.4M430.4,252.4V255.5M430.4,262.5V264.0" stroke="#40a840"/><path d="M420.1,224.3H424.1M420.1,232.3H424.1" stroke="#4848c8"/><path d="M422.9,224.3H426.9M422.9,232.3H426.9" stroke="#40a840"/><path d="M436.8,222.4H440.8M436.8,230.4H440.8" stroke="#4848c8"/><path d="M442.8,222.4H446.8M442.8,230.4H446.8" stroke="#4848c8"/><path d="M444.0,186.1H448.0M444.0,194.1H448.0" stroke="#c85050"/><path d="M449.6,199.9H453.6M449.6,207.9H453.6" stroke="#c85050"/><path d="M455.3,196.8H459.3M455.3,204.8H459.3" stroke="#c85050"/><path d="M460.3,198.7H464.3M460.3,206.7H464.3" stroke="#c85050"/><path d="M466.0,195.5H470.0M466.0,203.5H470.0" stroke="#c85050"/><path d="M473.5,194.9H477.5M473.5,202.9H477.5" stroke="#4848c8"/><path d="M471.6,202.4H475.6M471.6,210.4H475.6" stroke="#c85050"/><path d="M478.6,208.0H482.6M478.6,216.0H482.6" stroke="#c85050"/><path d="M483.6,205.5H487.6M483.6,213.5H487.6" stroke="#c85050"/><path d="M485.9,208.9H489.9M485.9,216.9H489.9" stroke="#4848c8"/><path d="M479.9,214.0H483.9M479.9,222.0H483.9" stroke="#4848c8"/><path d="M488.9,219.3H492.9M488.9,227.3H492.9" stroke="#c85050"/><path d="M490.5,228.2H494.5M490.5,236.2H494.5" stroke="#4848c8"/><path d="M461.6,211.3H465.6M461.6,219.3H465.6" stroke="#4848c8"/><path d="M467.8,209.4H471.8M467.8,217.4H471.8" stroke="#4848c8"/><path d="M448.3,217.5H452.3M448.3,225.5H452.3" stroke="#4848c8"/><path d="M422.6,203.0H426.6M422.6,213.5H426.6M424.6,203.0V204.8M424.6,211.8V213.5" stroke="#c85050"/><path d="M428.8,202.0H432.8M428.8,212.0H432.8M430.8,202.0V203.6M430.8,210.6V212.0" stroke="#c85050"/><path d="M433.0,208.1H437.0M433.0,216.1H437.0" stroke="#40a840"/><path d="M425.7,216.3H429.7M425.7,224.3H429.7" stroke="#4848c8"/><path d="M416.9,217.8H420.9M416.9,226.2H420.9M418.9,217.8V218.7" stroke="#c85050"/><path d="M494.4,221.8H498.4M494.4,229.8H498.4" stroke="#c85050"/><path d="M502.5,226.2H506.5M502.5,234.2H506.5" stroke="#4848c8"/><path d="M506.3,229.9H510.3M506.3,237.9H510.3" stroke="#c85050"/><path d="M508.2,233.1H512.2M508.2,241.1H512.2" stroke="#4848c8"/><path d="M500.6,237.5H504.6M500.6,245.5H504.6" stroke="#c85050"/><path d="M513.8,238.1H517.8M513.8,246.1H517.8" stroke="#4848c8"/><path d="M519.5,245.0H523.5M519.5,253.0H523.5" stroke="#4848c8"/><path d="M517.6,247.5H521.6M517.6,255.5H521.6" stroke="#c85050"/><path d="M530.8,252.6H534.8M530.8,260.6H534.8" stroke="#4848c8"/><path d="M512.0,254.5H516.0M512.0,262.5H516.0" stroke="#c85050"/><path d="M522.7,255.7H526.7M522.7,263.7H526.7" stroke="#c85050"/><path d="M524.5,260.1H528.5M524.5,268.1H528.5" stroke="#4848c8"/><path d="M536.4,267.3H540.4M536.4,275.3H540.4" stroke="#4848c8"/><path d="M528.8,279.3H532.8M528.8,287.3H532.8" stroke="#c85050"/><path d="M534.7,282.4H538.7M534.7,290.4H538.7" stroke="#c85050"/><path d="M542.0,291.8H546.0M542.0,299.8H546.0" stroke="#4848c8"/><path d="M540.8,305.7H544.8M540.8,313.7H544.8" stroke="#c85050"/><path d="M548.3,309.5H552.3M548.3,317.5H552.3" stroke="#4848c8"/><path d="M546.4,319.5H550.4M546.4,327.5H550.4" stroke="#c85050"/><path d="M574.7,315.3H578.7M574.7,323.3H578.7" stroke="#c85050"/><path d="M591.1,309.5H595.1M591.1,317.5H595.1" stroke="#4848c8"/><path d="M596.7,298.1H600.7M596.7,306.1H600.7" stroke="#c85050"/><path d="M553.8,330.0H557.8M553.8,338.0H557.8" stroke="#4848c8"/><path d="M551.9,340.7H555.9M551.9,348.7H555.9" stroke="#c85050"/><path d="M557.2,347.6H561.2M557.2,355.6H561.2" stroke="#c85050"/><path d="M563.0,339.8H567.0M563.0,347.8H567.0" stroke="#c85050"/><path d="M568.9,338.5H572.9M568.9,346.5H572.9" stroke="#c85050"/><path d="M574.3,336.3H578.3M574.3,344.3H578.3" stroke="#4848c8"/><path d="M580.2,339.4H584.2M580.2,347.4H584.2" stroke="#4848c8"/><path d="M568.5,325.6H572.5M568.5,333.6H572.5" stroke="#4848c8"/><path d="M580.8,326.8H584.8M580.8,334.8H584.8" stroke="#c85050"/><path d="M586.1,324.3H590.1M586.1,332.3H590.1" stroke="#4848c8"/><path d="M596.9,324.9H600.9M596.9,332.9H600.9" stroke="#4848c8"/><path d="M602.8,310.1H606.8M602.8,318.1H606.8" stroke="#4848c8"/><path d="M603.4,295.6H607.4M603.4,303.6H607.4" stroke="#c85050"/><path d="M625.2,239.1H629.2M625.2,247.1H629.2" stroke="#4848c8"/><path d="M631.1,236.2H635.1M631.1,244.2H635.1" stroke="#c85050"/><path d="M630.8,242.9H634.8M630.8,250.9H634.8" stroke="#4848c8"/><path d="M625.2,246.7H629.2M625.2,254.7H629.2" stroke="#c85050"/><path d="M627.1,249.2H631.1M627.1,257.2H631.1" stroke="#c85050"/><path d="M614.5,267.4H618.5M614.5,275.4H618.5" stroke="#c85050"/><path d="M619.5,274.4H623.5M619.5,282.4H623.5" stroke="#c85050"/><path d="M632.3,271.2H636.3M632.3,279.2H636.3" stroke="#c85050"/><path d="M636.5,262.6H640.5M636.5,296.0H640.5M638.5,262.6V274.9M638.5,281.9V296.0" stroke="#4848c8"/><path d="M621.4,284.4H625.4M621.4,292.4H625.4" stroke="#c85050"/><path d="M608.2,285.1H612.2M608.2,293.1H612.2" stroke="#4848c8"/><path d="M613.8,287.0H617.8M613.8,295.0H617.8" stroke="#4848c8"/><path d="M620.1,293.2H624.1M620.1,301.2H624.1" stroke="#4848c8"/><path d="M642.8,188.2H646.8M642.8,199.7H646.8M644.8,188.2V192.2" stroke="#4848c8"/><path d="M644.0,196.8H648.0M644.0,204.8H648.0" stroke="#c85050"/><path d="M642.8,202.4H646.8M642.8,210.4H646.8" stroke="#c85050"/><path d="M642.8,204.8H646.8M642.8,212.8H646.8" stroke="#c85050"/><path d="M637.7,215.0H641.7M637.7,223.0H641.7" stroke="#c85050"/><path d="M637.1,220.0H641.1M637.1,228.0H641.1" stroke="#c85050"/></g>
<g stroke-width="1"><rect x="195.2" y="166.4" width="13.4" height="13.4" fill="none" stroke="#b03030"/><circle cx="205.0" cy="184.5" r="6.8" fill="none" stroke="#3030c0"/><rect x="154.2" y="209.5" width="13.6" height="13.6" fill="none" stroke="#3030c0"/><circle cx="129.6" cy="288.5" r="7.0" fill="none" stroke="#c04040"/><circle cx="264.5" cy="268.0" r="7.5" fill="none" stroke="#30a030"/><rect x="428.3" y="204.3" width="13.4" height="13.4" fill="none" stroke="#30a030"/></g>
<path d="M69,42H683V459.4H69Z" stroke="#000" stroke-width="2" fill="none"/>
<rect x="712.5" y="28" width="79" height="57" fill="#000"/>
<rect x="709.5" y="25" width="79.5" height="57.5" fill="#fff" stroke="#333" stroke-width="1"/>
<text x="729.5" y="36.8" font-size="11" textLength="56.5" lengthAdjust="spacingAndGlyphs">Year: 2013</text>
<text x="729.5" y="50.3" font-size="11" textLength="43.5" lengthAdjust="spacingAndGlyphs">1 - 04/03</text>
<text x="729.5" y="64.3" font-size="11" textLength="43.5" lengthAdjust="spacingAndGlyphs">2 - 04/13</text>
<text x="729.5" y="78" font-size="11" textLength="43.5" lengthAdjust="spacingAndGlyphs">3 - 04/14</text>
<circle cx="719.1" cy="46.4" r="3.5" fill="#8a0000" stroke="#3a0000" stroke-width="0.8"/>
<path d="M719.5,57.4L723.6,64.3H715.5Z" fill="#0a7a0a" stroke="#053a05" stroke-width="0.8"/>
<path d="M715.5,71H723.6L719.5,78.3Z" fill="#00008a" stroke="#00003a" stroke-width="0.8"/>
</svg></body></html>
